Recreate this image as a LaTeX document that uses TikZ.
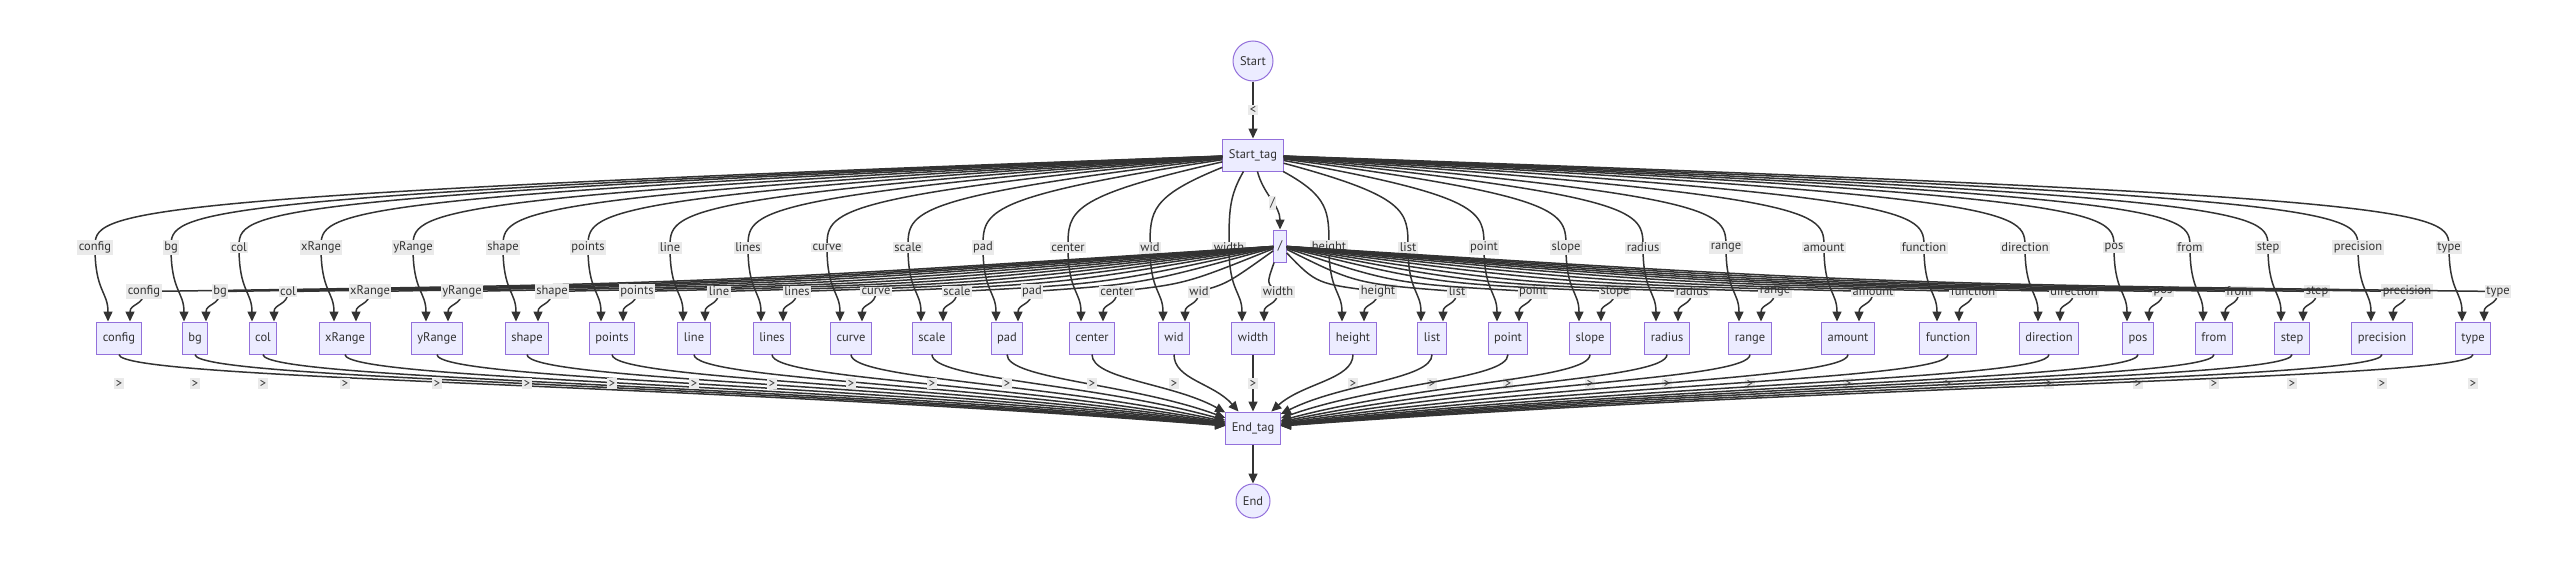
\documentclass[tikz,border=0pt]{standalone}
\usepackage{fontspec}
\setmainfont{PT Sans}
\usetikzlibrary{arrows.meta,calc}
\definecolor{mmfill}{HTML}{ECECFF}
\definecolor{mmline}{HTML}{9370DB}
\definecolor{mmedge}{HTML}{333333}
\definecolor{mmlbl}{HTML}{EAEAEA}
\tikzstyle{tag}=[rectangle, draw=mmline, fill=mmfill, line width=1pt, minimum height=32pt, inner xsep=6pt, text height=9pt, text depth=3pt, text=mmedge, font=\fontsize{12.5}{15}\selectfont]
\tikzstyle{term}=[circle, draw=mmline, fill=mmfill, line width=1pt, inner sep=2pt, minimum size=40pt, text=mmedge, font=\fontsize{12.5}{15}\selectfont]
\tikzstyle{lbl}=[fill=mmlbl, inner sep=1.5pt, text=mmedge, font=\fontsize{12.5}{15}\selectfont]
\tikzstyle{arr}=[draw=mmedge, line width=1.5pt, -{Triangle[length=10pt,width=9pt]}]
\tikzstyle{fromtag}=[arr, to path={.. controls ($(\tikztotarget.north)+(-24pt,125pt)$) and ($(\tikztotarget.north)+(-24pt,110pt)$) .. ($(\tikztotarget.north)+(-24pt,74pt)$) \tikztonodes .. controls ($(\tikztotarget.north)+(-24pt,30pt)$) and ($(\tikztotarget.north)+(-11pt,30pt)$) .. ($(\tikztotarget.north)+(-11pt,0pt)$)}]
\tikzstyle{fromslash}=[arr, to path={.. controls ($(\tikztotarget.north)!0.5!(\tikztostart)$) .. ($(\tikztotarget.north)+(25pt,30pt)$) \tikztonodes .. controls ($(\tikztotarget.north)+(25pt,16pt)$) and ($(\tikztotarget.north)+(11pt,18pt)$) .. ($(\tikztotarget.north)+(11pt,0pt)$)}]
\tikzstyle{toend}=[arr, to path={.. controls ($(\tikztostart.south)+(0pt,-25pt)$) and ($(\tikztotarget)!0.5!(\tikztostart)$) .. (\tikztotarget) node[lbl] at ($(\tikztostart.south)+(0pt,-29pt)$) {>}}]

\begin{document}
\begin{tikzpicture}[x=1pt,y=-1pt]
  \useasboundingbox (0,0) rectangle (2560,562);
  \node[term] (start) at (1253,61) {Start};
  \node[tag] (starttag) at (1253,155) {Start\_tag};
  \node[tag, inner xsep=4pt] (slash) at (1280,246) {/};
  \node[tag] (config) at (119,338) {config};
  \node[tag] (bg) at (195,338) {bg};
  \node[tag] (col) at (263,338) {col};
  \node[tag] (xRange) at (345,338) {xRange};
  \node[tag] (yRange) at (437,338) {yRange};
  \node[tag] (shape) at (527,338) {shape};
  \node[tag] (points) at (612,338) {points};
  \node[tag] (line) at (694,338) {line};
  \node[tag] (lines) at (772,338) {lines};
  \node[tag] (curve) at (851,338) {curve};
  \node[tag] (scale) at (932,338) {scale};
  \node[tag] (pad) at (1007,338) {pad};
  \node[tag] (center) at (1092,338) {center};
  \node[tag] (wid) at (1174,338) {wid};
  \node[tag] (width) at (1253,338) {width};
  \node[tag] (height) at (1353,338) {height};
  \node[tag] (list) at (1432,338) {list};
  \node[tag] (point) at (1508,338) {point};
  \node[tag] (slope) at (1590,338) {slope};
  \node[tag] (radius) at (1667,338) {radius};
  \node[tag] (range) at (1750,338) {range};
  \node[tag] (amount) at (1848,338) {amount};
  \node[tag] (function) at (1948,338) {function};
  \node[tag] (direction) at (2049,338) {direction};
  \node[tag] (pos) at (2138,338) {pos};
  \node[tag] (from) at (2214,338) {from};
  \node[tag] (step) at (2292,338) {step};
  \node[tag] (precision) at (2382,338) {precision};
  \node[tag] (type) at (2473,338) {type};
  \node[tag] (endtag) at (1253,428) {End\_tag};
  \node[term, minimum size=34pt] (stop) at (1253,501) {End};

  \draw[arr] (start) -- node[lbl]{<} (starttag);
  \draw[arr] (starttag) to[out=-75,in=90] node[lbl,pos=0.55]{/} (slash);
  \draw[arr] (endtag) -- (stop);

  \draw[fromtag] (starttag) to node[lbl,pos=1]{config} (config);
  \draw[fromtag] (starttag) to node[lbl,pos=1]{bg} (bg);
  \draw[fromtag] (starttag) to node[lbl,pos=1]{col} (col);
  \draw[fromtag] (starttag) to node[lbl,pos=1]{xRange} (xRange);
  \draw[fromtag] (starttag) to node[lbl,pos=1]{yRange} (yRange);
  \draw[fromtag] (starttag) to node[lbl,pos=1]{shape} (shape);
  \draw[fromtag] (starttag) to node[lbl,pos=1]{points} (points);
  \draw[fromtag] (starttag) to node[lbl,pos=1]{line} (line);
  \draw[fromtag] (starttag) to node[lbl,pos=1]{lines} (lines);
  \draw[fromtag] (starttag) to node[lbl,pos=1]{curve} (curve);
  \draw[fromtag] (starttag) to node[lbl,pos=1]{scale} (scale);
  \draw[fromtag] (starttag) to node[lbl,pos=1]{pad} (pad);
  \draw[fromtag] (starttag) to node[lbl,pos=1]{center} (center);
  \draw[fromtag] (starttag) to node[lbl,pos=1]{wid} (wid);
  \draw[fromtag] (starttag) to node[lbl,pos=1]{width} (width);
  \draw[fromtag] (starttag) to node[lbl,pos=1]{height} (height);
  \draw[fromtag] (starttag) to node[lbl,pos=1]{list} (list);
  \draw[fromtag] (starttag) to node[lbl,pos=1]{point} (point);
  \draw[fromtag] (starttag) to node[lbl,pos=1]{slope} (slope);
  \draw[fromtag] (starttag) to node[lbl,pos=1]{radius} (radius);
  \draw[fromtag] (starttag) to node[lbl,pos=1]{range} (range);
  \draw[fromtag] (starttag) to node[lbl,pos=1]{amount} (amount);
  \draw[fromtag] (starttag) to node[lbl,pos=1]{function} (function);
  \draw[fromtag] (starttag) to node[lbl,pos=1]{direction} (direction);
  \draw[fromtag] (starttag) to node[lbl,pos=1]{pos} (pos);
  \draw[fromtag] (starttag) to node[lbl,pos=1]{from} (from);
  \draw[fromtag] (starttag) to node[lbl,pos=1]{step} (step);
  \draw[fromtag] (starttag) to node[lbl,pos=1]{precision} (precision);
  \draw[fromtag] (starttag) to node[lbl,pos=1]{type} (type);

  \draw[fromslash] (slash) to node[lbl,pos=1]{config} (config);
  \draw[fromslash] (slash) to node[lbl,pos=1]{bg} (bg);
  \draw[fromslash] (slash) to node[lbl,pos=1]{col} (col);
  \draw[fromslash] (slash) to node[lbl,pos=1]{xRange} (xRange);
  \draw[fromslash] (slash) to node[lbl,pos=1]{yRange} (yRange);
  \draw[fromslash] (slash) to node[lbl,pos=1]{shape} (shape);
  \draw[fromslash] (slash) to node[lbl,pos=1]{points} (points);
  \draw[fromslash] (slash) to node[lbl,pos=1]{line} (line);
  \draw[fromslash] (slash) to node[lbl,pos=1]{lines} (lines);
  \draw[fromslash] (slash) to node[lbl,pos=1]{curve} (curve);
  \draw[fromslash] (slash) to node[lbl,pos=1]{scale} (scale);
  \draw[fromslash] (slash) to node[lbl,pos=1]{pad} (pad);
  \draw[fromslash] (slash) to node[lbl,pos=1]{center} (center);
  \draw[fromslash] (slash) to node[lbl,pos=1]{wid} (wid);
  \draw[fromslash] (slash) to node[lbl,pos=1]{width} (width);
  \draw[fromslash] (slash) to node[lbl,pos=1]{height} (height);
  \draw[fromslash] (slash) to node[lbl,pos=1]{list} (list);
  \draw[fromslash] (slash) to node[lbl,pos=1]{point} (point);
  \draw[fromslash] (slash) to node[lbl,pos=1]{slope} (slope);
  \draw[fromslash] (slash) to node[lbl,pos=1]{radius} (radius);
  \draw[fromslash] (slash) to node[lbl,pos=1]{range} (range);
  \draw[fromslash] (slash) to node[lbl,pos=1]{amount} (amount);
  \draw[fromslash] (slash) to node[lbl,pos=1]{function} (function);
  \draw[fromslash] (slash) to node[lbl,pos=1]{direction} (direction);
  \draw[fromslash] (slash) to node[lbl,pos=1]{pos} (pos);
  \draw[fromslash] (slash) to node[lbl,pos=1]{from} (from);
  \draw[fromslash] (slash) to node[lbl,pos=1]{step} (step);
  \draw[fromslash] (slash) to node[lbl,pos=1]{precision} (precision);
  \draw[fromslash] (slash) to node[lbl,pos=1]{type} (type);

  \draw[toend] (config) to (endtag);
  \draw[toend] (bg) to (endtag);
  \draw[toend] (col) to (endtag);
  \draw[toend] (xRange) to (endtag);
  \draw[toend] (yRange) to (endtag);
  \draw[toend] (shape) to (endtag);
  \draw[toend] (points) to (endtag);
  \draw[toend] (line) to (endtag);
  \draw[toend] (lines) to (endtag);
  \draw[toend] (curve) to (endtag);
  \draw[toend] (scale) to (endtag);
  \draw[toend] (pad) to (endtag);
  \draw[toend] (center) to (endtag);
  \draw[toend] (wid) to (endtag);
  \draw[toend] (width) to (endtag);
  \draw[toend] (height) to (endtag);
  \draw[toend] (list) to (endtag);
  \draw[toend] (point) to (endtag);
  \draw[toend] (slope) to (endtag);
  \draw[toend] (radius) to (endtag);
  \draw[toend] (range) to (endtag);
  \draw[toend] (amount) to (endtag);
  \draw[toend] (function) to (endtag);
  \draw[toend] (direction) to (endtag);
  \draw[toend] (pos) to (endtag);
  \draw[toend] (from) to (endtag);
  \draw[toend] (step) to (endtag);
  \draw[toend] (precision) to (endtag);
  \draw[toend] (type) to (endtag);
\end{tikzpicture}
\end{document}
